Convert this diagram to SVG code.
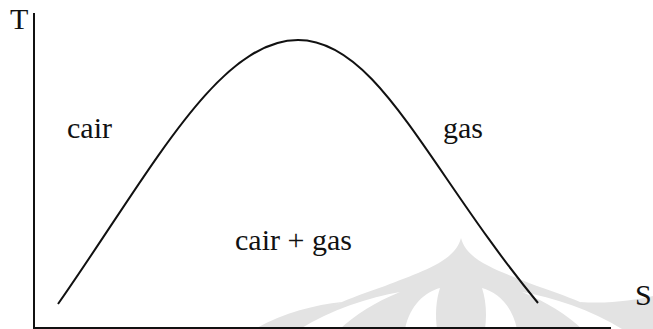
<svg xmlns="http://www.w3.org/2000/svg" width="653" height="329" viewBox="0 0 653 329">
  <style>
    .axis { stroke: #111; stroke-width: 2; fill: none; }
    .curve { stroke: #111; stroke-width: 2; fill: none; }
    .wm { fill: #e3e3e3; }
    .wmc { fill: #ffffff; }
    text { font-family: "Liberation Serif", "Times New Roman", serif; font-size: 30px; fill: #111; }
  </style>
  <rect width="653" height="329" fill="#ffffff"/>
  <g id="watermark">
    <path class="wm" d="M461,238 C455,262 420,272 385,286 C350,298 318,310 296,329 L626,329 C604,310 572,298 537,286 C502,272 467,262 461,238 Z"/>
    <path class="wm" d="M255,329 C285,312 315,305 342,302 C322,312 310,320 305,329 Z"/>
    <path class="wm" d="M580,302 C610,304 635,300 653,296 L653,329 L592,329 C590,318 586,309 580,302 Z"/>
    <path class="wmc" d="M405,329 C410,305 425,292 440,288 C436,300 435,315 437,329 Z"/>
    <path class="wmc" d="M517,329 C512,305 497,292 482,288 C486,300 487,315 485,329 Z"/>
    <path class="wmc" d="M300,329 C330,310 370,297 400,292 C375,302 355,315 340,329 Z"/>
    <path class="wmc" d="M622,329 C592,310 552,297 522,292 C547,302 567,315 582,329 Z"/>
  </g>
  <g id="axes">
    <line class="axis" x1="34" y1="13" x2="34" y2="329"/>
    <line class="axis" x1="33" y1="328" x2="611" y2="328"/>
  </g>
  <g id="saturation-curve">
    <path class="curve" d="M58,304 C151,171 218,40 298,40 C378,40 428,170 538,303"/>
  </g>
  <g id="labels">
    <text x="10" y="29">T</text>
    <text x="635" y="305">S</text>
    <text x="67" y="138">cair</text>
    <text x="443" y="138">gas</text>
    <text x="235" y="250">cair + gas</text>
  </g>
</svg>
